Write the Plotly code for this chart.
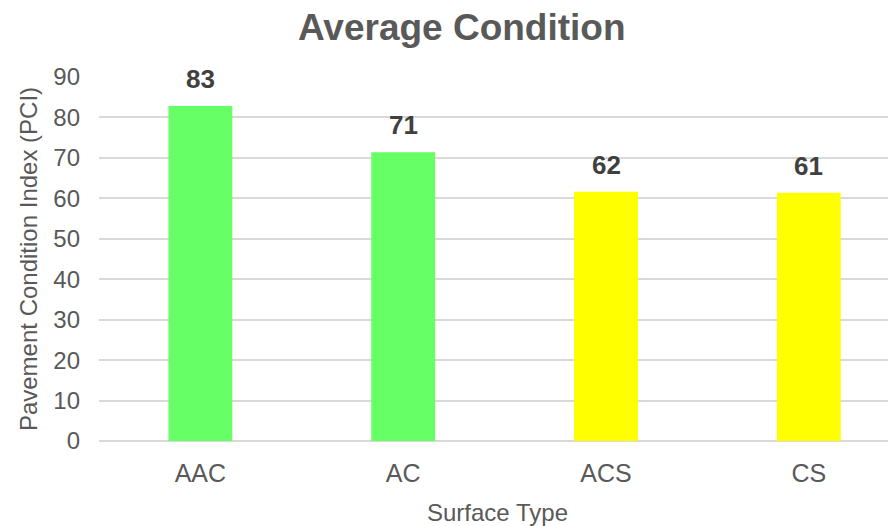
import plotly.graph_objects as go

categories = ["AAC", "AC", "ACS", "CS"]
values = [82.8, 71.4, 61.6, 61.4]
labels = ["83", "71", "62", "61"]
colors = ["#66FF66", "#66FF66", "#FFFF00", "#FFFF00"]
y_ticks = [0, 10, 20, 30, 40, 50, 60, 70, 80, 90]

FONT = "Liberation Sans, Arial, sans-serif"

fig = go.Figure()
fig.add_trace(go.Bar(
    x=categories, y=values, marker=dict(color=colors, line=dict(width=0)),
    width=0.315, hoverinfo="skip",
))

for c, v, t in zip(categories, values, labels):
    fig.add_annotation(x=c, y=v, text="<b>%s</b>" % t, showarrow=False,
                       yanchor="bottom", yshift=10,
                       font=dict(family=FONT, size=26, color="#404040"))

fig.update_layout(
    width=888, height=518,
    margin=dict(l=91, r=0, t=69, b=85),
    paper_bgcolor="white", plot_bgcolor="white",
    title=dict(text="<b>Average Condition</b>", x=0.511, xanchor="center",
               xref="container", yref="container", y=1 - 19 / 518, yanchor="middle",
               font=dict(family=FONT, size=37, color="#595959")),
    showlegend=False,
    xaxis=dict(range=[-0.5, 3.43], showgrid=False, showline=False,
               ticks="", ticklabelstandoff=15, automargin=False,
               tickfont=dict(family=FONT, size=25, color="#595959"),
               title=dict(text="Surface Type", standoff=21,
                          font=dict(family=FONT, size=24, color="#595959"))),
    yaxis=dict(range=[0, 90], tickvals=y_ticks, showgrid=True,
               gridcolor="#D9D9D9", gridwidth=1.5, zeroline=True,
               zerolinecolor="#D9D9D9", zerolinewidth=1.5, ticks="",
               ticklabelstandoff=18, automargin=False,
               tickfont=dict(family=FONT, size=24, color="#595959"),
               title=dict(text="Pavement Condition Index (PCI)", standoff=8,
                          font=dict(family=FONT, size=24, color="#595959"))),
)

fig.write_html("out.html")
